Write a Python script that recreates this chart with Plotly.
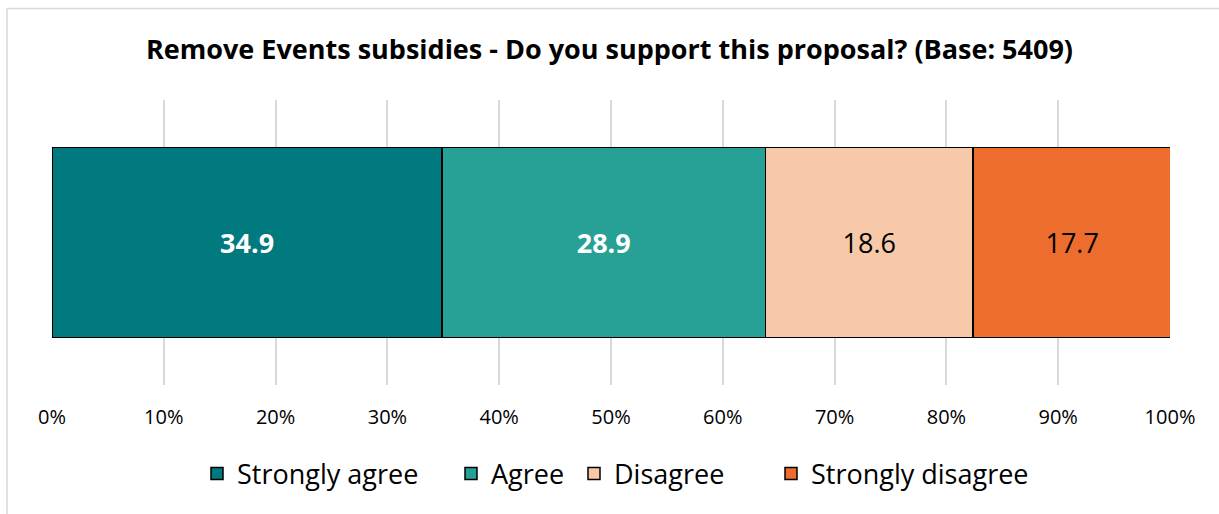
import plotly.graph_objects as go

categories = ["Remove Events subsidies"]
series_names = ["Strongly agree", "Agree", "Disagree", "Strongly disagree"]
series_values = [34.9, 28.9, 18.6, 17.7]
series_colors = ["#007A7F", "#27A196", "#F8C9A9", "#EC6D2E"]
label_colors = ["white", "white", "black", "black"]
label_weights = ["bold", "bold", "normal", "normal"]
tick_vals = [0, 10, 20, 30, 40, 50, 60, 70, 80, 90, 100]
tick_text = ["0%", "10%", "20%", "30%", "40%", "50%", "60%", "70%", "80%", "90%", "100%"]
title_text = "Remove Events subsidies - Do you support this proposal? (Base: 5409)"

W, H = 1219, 514
FONT = "Open Sans"
legend_text_x = [237, 491, 614, 811]  # pixel positions where each legend label starts

fig = go.Figure()
for i, (name, val, col, lc, lw) in enumerate(zip(series_names, series_values, series_colors,
                                                   label_colors, label_weights)):
    fig.add_trace(go.Bar(
        y=categories, x=[val], name=name, orientation="h",
        marker=dict(color=col, line=dict(color="black", width=1.5)),
        text=[f"{val:.1f}"], textposition="inside", insidetextanchor="middle",
        textfont=dict(color=lc, size=27, family=FONT, weight=lw),
        hoverinfo="skip",
        legend="legend" if i == 0 else f"legend{i + 1}",
    ))

legend_common = dict(orientation="h", yanchor="middle", y=(H - 474) / H, xanchor="left",
                     font=dict(size=27, family=FONT, color="black"), itemwidth=30,
                     bgcolor="rgba(0,0,0,0)")
legends = {}
for i, tx in enumerate(legend_text_x):
    key = "legend" if i == 0 else f"legend{i + 1}"
    legends[key] = dict(legend_common, x=(tx - 40) / W)

fig.update_layout(
    width=W, height=H, barmode="stack", bargap=0.333,
    paper_bgcolor="white", plot_bgcolor="white",
    margin=dict(l=0, r=0, t=0, b=0),
    font=dict(family=FONT, color="black"),
    title=dict(text=title_text, x=0.5, xanchor="center", xref="paper",
               y=1 - 50 / H, yanchor="middle", yref="paper",
               font=dict(size=27, family=FONT, weight="bold", color="black")),
    xaxis=dict(domain=[52 / W, 1170 / W], range=[0, 100], tickvals=tick_vals, ticktext=tick_text,
               showgrid=True, gridcolor="#D9D9D9", gridwidth=1.5, zeroline=False,
               showline=False, ticks="", tickfont=dict(size=20, family=FONT),
               ticklabelstandoff=18, automargin=False, fixedrange=True),
    yaxis=dict(domain=[(H - 385) / H, (H - 100) / H], showticklabels=False, showgrid=False,
               zeroline=False, range=[-0.5, 0.5], automargin=False, fixedrange=True),
    showlegend=True,
    shapes=[
        dict(type="line", xref="paper", yref="paper", x0=7 / W, x1=1.0,
             y0=1 - 8.5 / H, y1=1 - 8.5 / H, line=dict(color="#D9D9D9", width=1.5), layer="below"),
        dict(type="line", xref="paper", yref="paper", x0=7 / W, x1=7 / W,
             y0=0, y1=1 - 8.5 / H, line=dict(color="#D9D9D9", width=1.5), layer="below"),
    ],
    **legends,
)

fig.write_html("out.html", config={"displayModeBar": False},
               post_script="document.body.style.margin='0';document.body.style.padding='0';")
